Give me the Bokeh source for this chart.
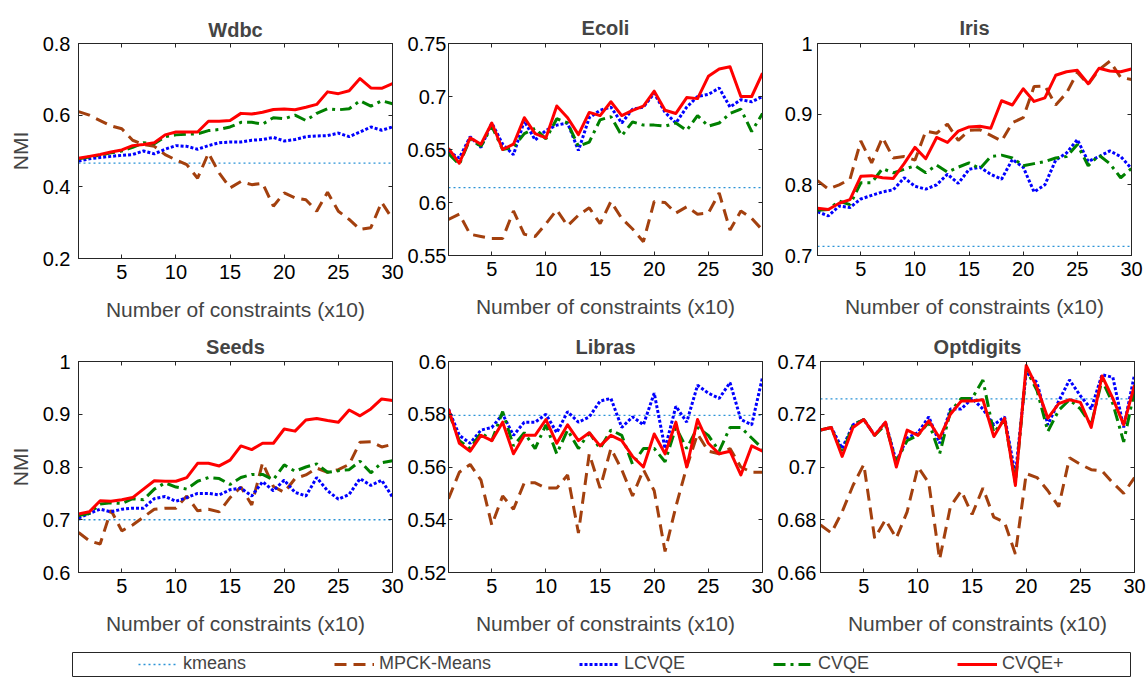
from bokeh.plotting import figure
from bokeh.layouts import column, row
from bokeh.models import FixedTicker, LinearAxis, Legend, LegendItem, Range1d
from bokeh.embed import file_html
from bokeh.resources import INLINE

# ---------------- data ----------------
constraints = list(range(1, 31))
x_ticks = [5, 10, 15, 20, 25, 30]
series_names = ["kmeans", "MPCK-Means", "LCVQE", "CVQE", "CVQE+"]

wdbc_kmeans = 0.466
wdbc_mpck = [0.610, 0.600, 0.585, 0.570, 0.562, 0.530, 0.518, 0.513, 0.490, 0.475, 0.462, 0.424, 0.494, 0.438,
             0.397, 0.415, 0.406, 0.410, 0.346, 0.383, 0.369, 0.364, 0.332, 0.385, 0.332, 0.309, 0.281, 0.286,
             0.357, 0.310]
wdbc_lcvqe = [0.472, 0.478, 0.482, 0.485, 0.488, 0.490, 0.500, 0.492, 0.505, 0.515, 0.513, 0.505, 0.515, 0.523,
              0.525, 0.525, 0.530, 0.532, 0.538, 0.528, 0.532, 0.540, 0.542, 0.543, 0.550, 0.540, 0.553, 0.567,
              0.558, 0.567]
wdbc_cvqe = [0.478, 0.483, 0.488, 0.495, 0.500, 0.510, 0.523, 0.520, 0.540, 0.545, 0.547, 0.548, 0.557, 0.560,
             0.567, 0.580, 0.580, 0.575, 0.593, 0.590, 0.600, 0.585, 0.605, 0.618, 0.615, 0.618, 0.640, 0.625,
             0.640, 0.632]
wdbc_cvqe_plus = [0.480, 0.485, 0.490, 0.497, 0.503, 0.515, 0.518, 0.523, 0.545, 0.553, 0.553, 0.553, 0.583, 0.583,
                  0.585, 0.605, 0.603, 0.608, 0.616, 0.617, 0.615, 0.622, 0.630, 0.665, 0.660, 0.668, 0.702, 0.676,
                  0.675, 0.688]
wdbc_yticks = [0.2, 0.4, 0.6, 0.8]
wdbc_ylabels = ["0.2", "0.4", "0.6", "0.8"]

ecoli_kmeans = 0.614
ecoli_mpck = [0.584, 0.589, 0.570, 0.568, 0.566, 0.566, 0.592, 0.570, 0.568, 0.580, 0.593, 0.578, 0.588, 0.595,
              0.580, 0.601, 0.585, 0.575, 0.563, 0.601, 0.600, 0.590, 0.596, 0.589, 0.590, 0.609, 0.574, 0.592,
              0.585, 0.574]
ecoli_lcvqe = [0.648, 0.642, 0.662, 0.652, 0.675, 0.655, 0.645, 0.677, 0.659, 0.668, 0.673, 0.675, 0.649, 0.680,
               0.687, 0.690, 0.675, 0.688, 0.690, 0.703, 0.685, 0.675, 0.690, 0.700, 0.702, 0.708, 0.690, 0.697,
               0.695, 0.700]
ecoli_cvqe = [0.646, 0.636, 0.660, 0.653, 0.672, 0.650, 0.652, 0.665, 0.670, 0.660, 0.679, 0.675, 0.653, 0.657,
              0.678, 0.681, 0.663, 0.676, 0.673, 0.673, 0.672, 0.675, 0.668, 0.682, 0.672, 0.675, 0.684, 0.688,
              0.667, 0.684]
ecoli_cvqe_plus = [0.651, 0.637, 0.661, 0.655, 0.675, 0.650, 0.655, 0.680, 0.665, 0.661, 0.691, 0.680, 0.664, 0.685,
                   0.682, 0.695, 0.682, 0.687, 0.691, 0.705, 0.687, 0.684, 0.699, 0.698, 0.719, 0.726, 0.728, 0.700,
                   0.700, 0.722]
ecoli_yticks = [0.55, 0.6, 0.65, 0.7, 0.75]
ecoli_ylabels = ["0.55", "0.6", "0.65", "0.7", "0.75"]

iris_kmeans = 0.713
iris_mpck = [0.806, 0.794, 0.800, 0.808, 0.862, 0.831, 0.867, 0.838, 0.840, 0.835, 0.876, 0.873, 0.886, 0.863,
             0.877, 0.878, 0.870, 0.862, 0.888, 0.895, 0.939, 0.940, 0.913, 0.930, 0.959, 0.942, 0.963, 0.975,
             0.952, 0.949]
iris_lcvqe = [0.762, 0.756, 0.770, 0.768, 0.780, 0.785, 0.790, 0.793, 0.810, 0.798, 0.794, 0.800, 0.815, 0.802,
              0.822, 0.825, 0.815, 0.808, 0.836, 0.825, 0.790, 0.800, 0.835, 0.845, 0.864, 0.833, 0.840, 0.848,
              0.840, 0.823]
iris_cvqe = [0.764, 0.765, 0.777, 0.772, 0.803, 0.803, 0.823, 0.817, 0.822, 0.827, 0.817, 0.828, 0.818, 0.825,
             0.831, 0.823, 0.840, 0.842, 0.838, 0.827, 0.830, 0.833, 0.838, 0.840, 0.857, 0.827, 0.842, 0.830,
             0.810, 0.823]
iris_cvqe_plus = [0.767, 0.765, 0.774, 0.779, 0.812, 0.813, 0.810, 0.809, 0.830, 0.853, 0.837, 0.867, 0.860, 0.876,
                  0.882, 0.883, 0.880, 0.919, 0.913, 0.936, 0.918, 0.923, 0.955, 0.960, 0.962, 0.943, 0.965, 0.961,
                  0.960, 0.964]
iris_yticks = [0.7, 0.8, 0.9, 1.0]
iris_ylabels = ["0.7", "0.8", "0.9", "1"]

seeds_kmeans = 0.700
seeds_mpck = [0.676, 0.660, 0.654, 0.718, 0.679, 0.690, 0.705, 0.720, 0.722, 0.722, 0.745, 0.717, 0.720, 0.715,
              0.742, 0.762, 0.728, 0.808, 0.763, 0.752, 0.778, 0.785, 0.798, 0.790, 0.795, 0.805, 0.847, 0.848,
              0.838, 0.843]
seeds_lcvqe = [0.703, 0.712, 0.720, 0.715, 0.720, 0.722, 0.722, 0.740, 0.744, 0.735, 0.742, 0.750, 0.750, 0.747,
               0.757, 0.760, 0.745, 0.772, 0.755, 0.775, 0.752, 0.745, 0.780, 0.755, 0.739, 0.748, 0.778, 0.765,
               0.775, 0.743]
seeds_cvqe = [0.708, 0.712, 0.730, 0.732, 0.731, 0.740, 0.738, 0.758, 0.770, 0.762, 0.758, 0.773, 0.780, 0.778,
              0.767, 0.780, 0.786, 0.786, 0.776, 0.804, 0.792, 0.800, 0.806, 0.790, 0.793, 0.795, 0.811, 0.789,
              0.808, 0.812]
seeds_cvqe_plus = [0.711, 0.715, 0.736, 0.735, 0.738, 0.742, 0.758, 0.774, 0.773, 0.773, 0.780, 0.807, 0.807, 0.802,
                   0.813, 0.840, 0.833, 0.845, 0.845, 0.872, 0.868, 0.889, 0.892, 0.888, 0.885, 0.908, 0.897, 0.910,
                   0.929, 0.926]
seeds_yticks = [0.6, 0.7, 0.8, 0.9, 1.0]
seeds_ylabels = ["0.6", "0.7", "0.8", "0.9", "1"]

libras_kmeans = 0.5796
libras_mpck = [0.548, 0.558, 0.561, 0.555, 0.538, 0.549, 0.544, 0.554, 0.554, 0.552, 0.552, 0.557, 0.535, 0.565,
               0.552, 0.567, 0.559, 0.549, 0.559, 0.551, 0.528, 0.545, 0.560, 0.5725, 0.566, 0.565, 0.567, 0.560,
               0.558, 0.558]
libras_lcvqe = [0.582, 0.572, 0.569, 0.574, 0.575, 0.580, 0.572, 0.577, 0.577, 0.580, 0.573, 0.581, 0.577, 0.579,
                0.585, 0.586, 0.575, 0.579, 0.576, 0.588, 0.567, 0.583, 0.577, 0.591, 0.588, 0.586, 0.592, 0.578,
                0.576, 0.594]
libras_cvqe = [0.581, 0.570, 0.567, 0.573, 0.570, 0.581, 0.568, 0.573, 0.567, 0.576, 0.565, 0.574, 0.567, 0.573,
               0.567, 0.574, 0.572, 0.561, 0.567, 0.567, 0.562, 0.575, 0.567, 0.575, 0.572, 0.566, 0.575, 0.575,
               0.571, 0.567]
libras_cvqe_plus = [0.582, 0.569, 0.566, 0.572, 0.570, 0.577, 0.565, 0.572, 0.572, 0.578, 0.569, 0.576, 0.570, 0.573,
                    0.568, 0.572, 0.570, 0.564, 0.560, 0.5725, 0.565, 0.577, 0.560, 0.578, 0.569, 0.565, 0.566, 0.557,
                    0.568, 0.566]
libras_yticks = [0.52, 0.54, 0.56, 0.58, 0.6]
libras_ylabels = ["0.52", "0.54", "0.56", "0.58", "0.6"]

opt_kmeans = 0.7258
opt_mpck = [0.678, 0.675, 0.683, 0.693, 0.701, 0.673, 0.680, 0.673, 0.683, 0.700, 0.694, 0.665, 0.685, 0.691,
            0.682, 0.692, 0.681, 0.679, 0.667, 0.6975, 0.696, 0.691, 0.685, 0.7035, 0.701, 0.699, 0.6985, 0.694,
            0.690, 0.696]
opt_lcvqe = [0.714, 0.715, 0.707, 0.716, 0.718, 0.712, 0.717, 0.702, 0.711, 0.713, 0.719, 0.709, 0.722, 0.722,
             0.726, 0.722, 0.716, 0.719, 0.697, 0.736, 0.732, 0.716, 0.725, 0.733, 0.727, 0.722, 0.735, 0.734,
             0.715, 0.735]
opt_cvqe = [0.714, 0.715, 0.705, 0.716, 0.718, 0.712, 0.716, 0.702, 0.710, 0.712, 0.717, 0.705, 0.721, 0.726,
            0.726, 0.733, 0.713, 0.718, 0.694, 0.737, 0.729, 0.7135, 0.7215, 0.7255, 0.722, 0.716, 0.733, 0.724,
            0.7095, 0.729]
opt_cvqe_plus = [0.714, 0.715, 0.704, 0.715, 0.718, 0.712, 0.717, 0.700, 0.714, 0.712, 0.7175, 0.711, 0.720, 0.725,
                 0.725, 0.7255, 0.7115, 0.7185, 0.693, 0.7385, 0.730, 0.7185, 0.724, 0.7255, 0.7245, 0.715, 0.7345,
                 0.726, 0.716, 0.731]
opt_yticks = [0.66, 0.68, 0.7, 0.72, 0.74]
opt_ylabels = ["0.66", "0.68", "0.7", "0.72", "0.74"]

# ---------------- styles ----------------
FONT = "Liberation Sans"
AX = "#262626"
styles = {
    "kmeans": dict(line_color="#2b93d6", line_width=1.3, line_dash="2 3"),
    "MPCK-Means": dict(line_color="#a3400e", line_width=3, line_dash="12 7"),
    "LCVQE": dict(line_color="#0000ff", line_width=3, line_dash="3 2"),
    "CVQE": dict(line_color="#008000", line_width=3, line_dash="12 5 3 5"),
    "CVQE+": dict(line_color="#ff0000", line_width=3, line_join="round"),
}
FW = 314


def style_axis(ax, ticks, labels=None, show_labels=True, standoff=5):
    ax.ticker = FixedTicker(ticks=ticks)
    ax.axis_line_color = AX
    ax.major_tick_line_color = AX
    ax.major_tick_in = 4
    ax.major_tick_out = 0
    ax.minor_tick_line_color = None
    if show_labels:
        ax.major_label_text_font = FONT
        ax.major_label_text_font_size = "20px"
        ax.major_label_text_color = "black"
        ax.major_label_standoff = standoff
        if labels is not None:
            ax.major_label_overrides = {t: s for t, s in zip(ticks, labels)}
    else:
        ax.major_label_text_font_size = "1px"
        ax.major_label_text_color = None
        ax.major_label_standoff = 0
        ax.major_label_overrides = {t: "" for t in ticks}


def panel(title, km, mpck, lcvqe, cvqe, cvqep, yr, yticks, ylabels,
          left, right, top, bottom, fh, ystandoff, tstandoff, ylabel=None):
    p = figure(frame_width=FW, frame_height=fh,
               x_range=Range1d(1, 30), y_range=Range1d(*yr),
               min_border_left=left, min_border_right=right,
               min_border_top=top, min_border_bottom=bottom,
               output_backend="svg", toolbar_location=None, title=title)
    p.title.text_font = FONT
    p.title.text_font_size = "20px"
    p.title.text_font_style = "bold"
    p.title.align = "center"
    p.title.standoff = tstandoff
    p.grid.visible = False
    p.outline_line_color = AX
    p.outline_line_width = 1
    p.background_fill_color = "white"
    p.border_fill_color = "white"

    style_axis(p.xaxis[0], x_ticks, standoff=6)
    p.xaxis[0].axis_label = "Number of constraints (x10)"
    p.xaxis[0].axis_label_text_font = FONT
    p.xaxis[0].axis_label_text_font_size = "21px"
    p.xaxis[0].axis_label_text_font_style = "normal"
    p.xaxis[0].axis_label_standoff = 16

    style_axis(p.yaxis[0], yticks, ylabels, standoff=ystandoff)
    if ylabel:
        p.yaxis[0].axis_label = ylabel
        p.yaxis[0].axis_label_text_font = FONT
        p.yaxis[0].axis_label_text_font_size = "21px"
        p.yaxis[0].axis_label_text_font_style = "normal"
        p.yaxis[0].axis_label_standoff = 8

    ra = LinearAxis()
    style_axis(ra, yticks, show_labels=False)
    p.add_layout(ra, "right")
    ta = LinearAxis()
    style_axis(ta, x_ticks, show_labels=False)
    p.add_layout(ta, "above")

    p.line(constraints, [km] * len(constraints), **styles["kmeans"])
    p.line(constraints, mpck, **styles["MPCK-Means"])
    p.line(constraints, lcvqe, **styles["LCVQE"])
    p.line(constraints, cvqe, **styles["CVQE"])
    p.line(constraints, cvqep, **styles["CVQE+"])
    return p


p1 = panel("Wdbc", wdbc_kmeans, wdbc_mpck, wdbc_lcvqe, wdbc_cvqe, wdbc_cvqe_plus, (0.2, 0.8),
           wdbc_yticks, wdbc_ylabels, 78, 12, 40, 72, 215, 8, 6, "NMI")
p2 = panel("Ecoli", ecoli_kmeans, ecoli_mpck, ecoli_lcvqe, ecoli_cvqe, ecoli_cvqe_plus, (0.55, 0.75),
           ecoli_yticks, ecoli_ylabels, 43, 12, 43, 72, 212, 2, 9)
p3 = panel("Iris", iris_kmeans, iris_mpck, iris_lcvqe, iris_cvqe, iris_cvqe_plus, (0.7, 1.0),
           iris_yticks, iris_ylabels, 43, 18, 43, 72, 212, 5, 9)
p4 = panel("Seeds", seeds_kmeans, seeds_mpck, seeds_lcvqe, seeds_cvqe, seeds_cvqe_plus, (0.6, 1.0),
           seeds_yticks, seeds_ylabels, 78, 12, 34, 72, 211, 8, 7, "NMI")
p5 = panel("Libras", libras_kmeans, libras_mpck, libras_lcvqe, libras_cvqe, libras_cvqe_plus, (0.52, 0.6),
           libras_yticks, libras_ylabels, 43, 12, 34, 72, 211, 2, 7)
p6 = panel("Optdigits", opt_kmeans, opt_mpck, opt_lcvqe, opt_cvqe, opt_cvqe_plus, (0.66, 0.74),
           opt_yticks, opt_ylabels, 43, 18, 34, 72, 211, 4, 7)

# ---------------- legend strip ----------------
lg = figure(frame_width=1058, frame_height=24, min_border_left=72, min_border_right=18,
            min_border_top=8, min_border_bottom=5, x_range=Range1d(0, 1), y_range=Range1d(0, 1),
            x_axis_type=None, y_axis_type=None, output_backend="svg", toolbar_location=None)
lg.grid.visible = False
lg.outline_line_color = AX
lg.outline_line_width = 1
items = []
for name in series_names:
    # a single-point line draws nothing in the strip; it only supplies the legend sample
    r = lg.line(x=[constraints[0]], y=[wdbc_kmeans], **styles[name])
    items.append(LegendItem(label=name, renderers=[r]))
legend = Legend(items=items, orientation="horizontal", location=(66, 2), spacing=88,
                glyph_width=40, glyph_height=20, label_standoff=5, padding=0, margin=0,
                border_line_color=None, background_fill_alpha=0,
                label_text_font=FONT, label_text_font_size="18px", label_height=20)
lg.add_layout(legend)

layout = column(row(p1, p2, p3), row(p4, p5, p6), lg)
open("out.html", "w").write(file_html(layout, INLINE))
